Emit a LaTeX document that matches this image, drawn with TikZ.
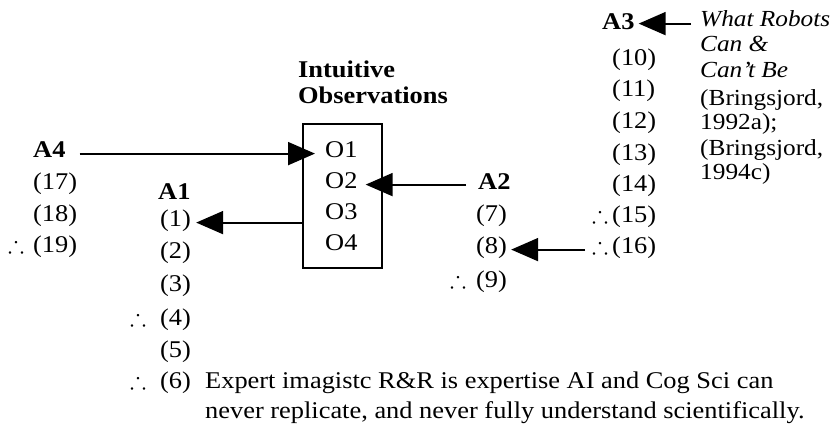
\documentclass[tikz,border=0pt]{standalone}
\usepackage{amssymb}
\usepackage{fontspec}
\setmainfont[FakeStretch=1.1]{Liberation Serif}
\usetikzlibrary{arrows.meta}
\begin{document}
\begin{tikzpicture}[x=1pt,y=1pt,
  lbl/.style={inner sep=0pt, anchor=base west, text height=0.68em, text depth=0pt, font=\fontsize{24}{28}\selectfont},
  blbl/.style={lbl, font=\fontsize{24}{28}\selectfont\bfseries},
  ilbl/.style={lbl, font=\fontsize{23}{26}\selectfont\itshape},
  rlbl/.style={lbl, font=\fontsize{23}{26}\selectfont},
  arr/.style={line width=2pt, -{Triangle[length=27pt,width=23pt]}}]
\useasboundingbox (0,0) rectangle (834,424);
\fill[white] (0,0) rectangle (834,424);
% box
\node[draw, line width=2.3pt, minimum width=79pt, minimum height=144pt, anchor=north west, inner sep=0pt] (box) at (302,301) {};
\node[blbl] (intu) at (298,346) {Intuitive};
\node[blbl] (obs) at (298,321) {Observations};
\node[lbl] (o1) at (325,267) {O1};
\node[lbl] (o2) at (325,236) {O2};
\node[lbl] (o3) at (325,205) {O3};
\node[lbl] (o4) at (325,174) {O4};
% A4
\node[blbl] (a4) at (33,267) {A4};
\node[lbl] (p17) at (33,235) {(17)};
\node[lbl] (p18) at (33,203) {(18)};
\node[lbl] (t19) at (8,172) {$\therefore$};
\node[lbl] (p19) at (33,172) {(19)};
% A1
\node[blbl] (a1) at (158,225) {A1};
\node[lbl] (p1) at (160,198) {(1)};
\node[lbl] (p2) at (160,166) {(2)};
\node[lbl] (p3) at (160,133) {(3)};
\node[lbl] (t4) at (130,99) {$\therefore$};
\node[lbl] (p4) at (160,99) {(4)};
\node[lbl] (p5) at (160,67) {(5)};
\node[lbl] (t6) at (130,36) {$\therefore$};
\node[lbl] (p6) at (160,36) {(6)};
\node[lbl] (c1) at (205,36) {Expert imagistc R\&R is expertise AI and Cog Sci can};
\node[lbl] (c2) at (205,6) {never replicate, and never fully understand scientifically.};
% A2
\node[blbl] (a2) at (478,235) {A2};
\node[lbl] (p7) at (476,203) {(7)};
\node[lbl] (p8) at (476,171) {(8)};
\node[lbl] (t9) at (450,137) {$\therefore$};
\node[lbl] (p9) at (476,137) {(9)};
% A3
\node[blbl] (a3) at (602,394) {A3};
\node[lbl] (p10) at (612,359) {(10)};
\node[lbl] (p11) at (612,328) {(11)};
\node[lbl] (p12) at (612,296) {(12)};
\node[lbl] (p13) at (612,264) {(13)};
\node[lbl] (p14) at (612,233) {(14)};
\node[lbl] (t15) at (592,202) {$\therefore$};
\node[lbl] (p15) at (612,202) {(15)};
\node[lbl] (t16) at (592,171) {$\therefore$};
\node[lbl] (p16) at (612,171) {(16)};
% source
\node[ilbl] (s1) at (700,397) {What Robots};
\node[ilbl] (s2) at (700,372) {Can \&};
\node[ilbl] (s3) at (700,347) {Can't Be};
\node[rlbl] (s4) at (700,319) {(Bringsjord,};
\node[rlbl] (s5) at (700,295) {1992a);};
\node[rlbl] (s6) at (700,269) {(Bringsjord,};
\node[rlbl] (s7) at (700,245) {1994c)};
% arrows
\draw[arr, shorten <=14pt, shorten >=10pt] (a4.east) -- (a4.east -| o1.west);
\draw[arr, shorten <=12pt, shorten >=8pt] (a2.west |- o2.east) -- (o2.east);
\draw[arr, shorten >=5pt] (p1.east -| box.west) -- (p1.east);
\draw[arr, shorten <=7pt, shorten >=4pt] (t16.west) -- (p8.east);
\draw[arr, shorten <=9pt, shorten >=4pt] (s1.west) -- (s1.west -| a3.east);
\end{tikzpicture}
\end{document}
